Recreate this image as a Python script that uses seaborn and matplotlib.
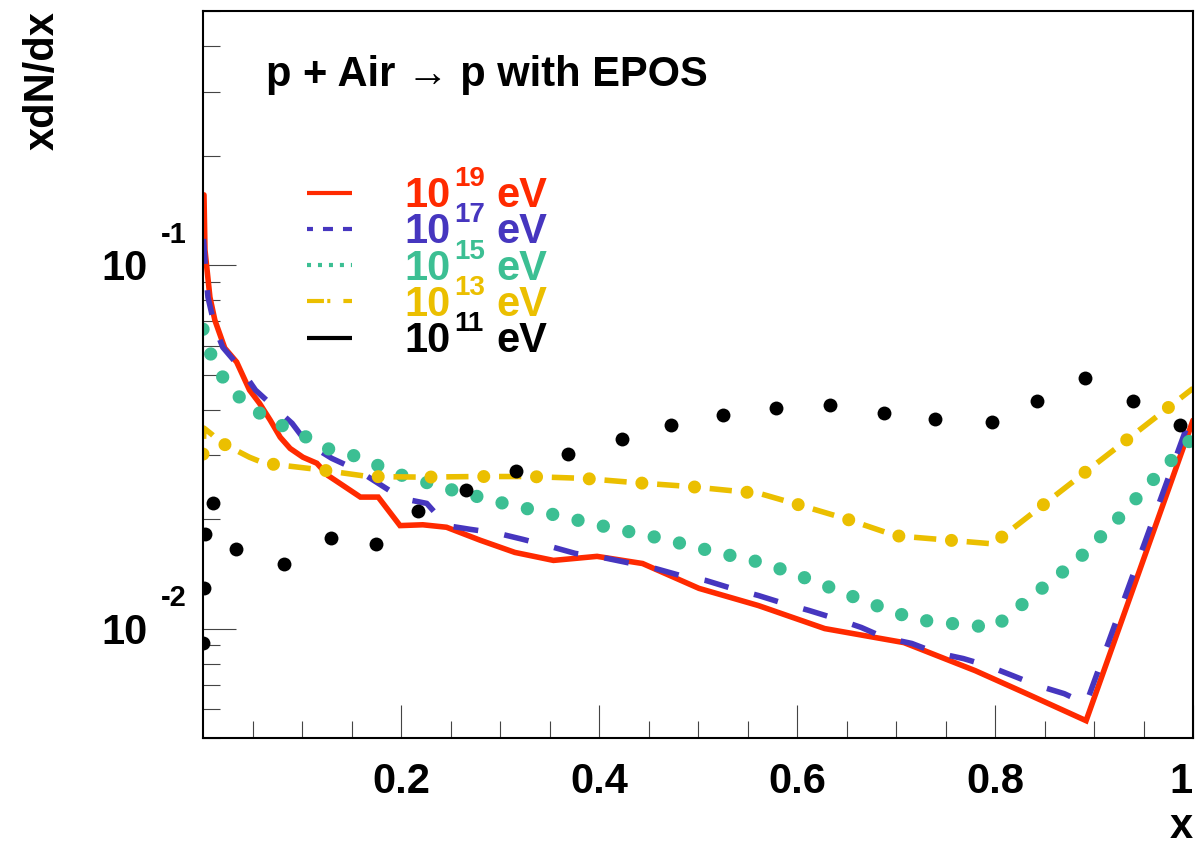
import numpy as np
import matplotlib
matplotlib.use("Agg")
import matplotlib.pyplot as plt
import matplotlib.transforms as mtransforms
from matplotlib.lines import Line2D
from matplotlib.ticker import FixedLocator, NullFormatter
import seaborn as sns

# ---------------- data ----------------
red_x = [0.001, 0.002, 0.007, 0.012, 0.022, 0.034, 0.047, 0.057, 0.068, 0.078, 0.088,
         0.101, 0.115, 0.126, 0.141, 0.159, 0.177, 0.199, 0.222, 0.246, 0.280, 0.315,
         0.354, 0.398, 0.444, 0.501, 0.561, 0.628, 0.708, 0.780, 0.832, 0.892, 1.0]
red_y = [0.156, 0.110, 0.0816, 0.0705, 0.0591, 0.0541, 0.0453, 0.0417, 0.0374, 0.0336, 0.0313,
         0.0296, 0.0285, 0.0264, 0.0248, 0.0230, 0.0230, 0.0192, 0.0193, 0.0190, 0.0175, 0.0162,
         0.0154, 0.0158, 0.0151, 0.0129, 0.01157, 0.0100, 0.00915, 0.00766, 0.00662, 0.00558, 0.0374]

blue_x = [0.0005, 0.003, 0.005, 0.012, 0.020, 0.037, 0.053, 0.073, 0.090, 0.105, 0.130,
          0.157, 0.177, 0.201, 0.226, 0.246, 0.270, 0.298, 0.323, 0.351, 0.376, 0.403,
          0.428, 0.457, 0.482, 0.508, 0.534, 0.561, 0.587, 0.612, 0.638, 0.665, 0.688,
          0.716, 0.740, 0.768, 0.792, 0.818, 0.843, 0.870, 0.892, 1.0]
blue_y = [0.118, 0.0939, 0.0816, 0.0675, 0.0594, 0.0524, 0.0453, 0.0404, 0.0367, 0.0324, 0.0294,
          0.0272, 0.0251, 0.0228, 0.0221, 0.0192, 0.01875, 0.01828, 0.0176, 0.01682, 0.0161, 0.0157,
          0.0152, 0.01463, 0.0140, 0.01356, 0.0129, 0.01233, 0.01172, 0.01122, 0.01067, 0.01007, 0.00945,
          0.00910, 0.00859, 0.00827, 0.00791, 0.00742, 0.00697, 0.00662, 0.00621, 0.0399]

green_x = [0.0, 0.006, 0.017, 0.033, 0.054, 0.077, 0.101, 0.125, 0.151, 0.201, 0.253, 0.304,
           0.357, 0.409, 0.463, 0.515, 0.568, 0.618, 0.669, 0.719, 0.746, 0.799, 0.841,
           0.883, 0.921, 0.957, 1.0]
green_y = [0.0666, 0.0583, 0.0504, 0.0442, 0.0396, 0.0365, 0.0340, 0.0313, 0.0300, 0.0264, 0.0240, 0.0221,
           0.0205, 0.0190, 0.0177, 0.0163, 0.0151, 0.01348, 0.01187, 0.0106, 0.01039, 0.01006, 0.0125,
           0.0154, 0.0196, 0.0252, 0.0336]

yellow_x = [0.0, 0.001, 0.009, 0.018, 0.047, 0.062, 0.116, 0.167, 0.222, 0.276, 0.329, 0.384,
            0.437, 0.491, 0.544, 0.563, 0.597, 0.648, 0.700, 0.754, 0.798, 1.0]
yellow_y = [0.0302, 0.0356, 0.0342, 0.0325, 0.0296, 0.0285, 0.0274, 0.0262, 0.0261, 0.0262, 0.0262, 0.0259,
            0.0252, 0.0246, 0.0238, 0.0235, 0.0221, 0.0201, 0.0180, 0.0175, 0.0171, 0.0458]

black_x = [0.0, 0.001, 0.002, 0.0101, 0.0333, 0.0818, 0.129, 0.175, 0.217, 0.266, 0.316, 0.369,
           0.423, 0.473, 0.525, 0.579, 0.633, 0.688, 0.739, 0.797, 0.842, 0.891, 0.939, 0.987]
black_y = [0.00915, 0.0129, 0.01815, 0.0221, 0.01652, 0.0151, 0.0177, 0.01714, 0.0210, 0.0241, 0.0271, 0.0303,
           0.0332, 0.0362, 0.0386, 0.0404, 0.0411, 0.0391, 0.0376, 0.0369, 0.0422, 0.0488, 0.0422, 0.0362]

legend_exponents = ["19", "17", "15", "13", "11"]
legend_base = "10"
legend_unit = "eV"
x_ticks = [0.2, 0.4, 0.6, 0.8, 1.0]
x_ticklabels = ["0.2", "0.4", "0.6", "0.8", "1"]
x_minor = [0.05, 0.1, 0.15, 0.25, 0.3, 0.35, 0.45, 0.5, 0.55, 0.65, 0.7, 0.75, 0.85, 0.9, 0.95]
y_major = [0.01, 0.1]
y_major_exp = ["-2", "-1"]
y_minor = [0.005, 0.006, 0.007, 0.008, 0.009, 0.02, 0.03, 0.04, 0.05, 0.06, 0.07, 0.08, 0.09,
           0.2, 0.3, 0.4, 0.5]
title_text = "p + Air \u2192 p with EPOS"

# ---------------- style ----------------
RED = "#ff2a00"
BLUE = "#4636bf"
GREEN = "#3cbf93"
YELLOW = "#ebbf00"
BLACK = "#000000"

sns.set_theme(style="white")
plt.rcParams["font.family"] = ["Liberation Sans", "DejaVu Sans"]
plt.rcParams["font.weight"] = "bold"
plt.rcParams["text.color"] = "black"
plt.rcParams["axes.labelcolor"] = "black"
plt.rcParams["xtick.color"] = "black"
plt.rcParams["ytick.color"] = "black"
plt.rcParams["lines.scale_dashes"] = False

W, H = 1200, 849
fig = plt.figure(figsize=(W / 100, H / 100), dpi=100)
L, R, T, B = 203, 1193, 11, 738
ax = fig.add_axes([L / W, (H - B) / H, (R - L) / W, (B - T) / H])
ax.set_yscale("log")


def draw(x, y, color, lw, ls, cap="butt", z=2):
    sns.lineplot(x=x, y=y, ax=ax, color=color, linewidth=lw, sort=False,
                 estimator=None, zorder=z)
    ln = ax.lines[-1]
    ln.set_linestyle(ls)
    ln.set_dash_capstyle(cap)
    ln.set_solid_joinstyle("miter")
    return ln


draw(red_x, red_y, RED, 4.0, "-", z=2)
draw(blue_x, blue_y, BLUE, 4.0, (0, (18, 19)), z=2.1)
draw(green_x, green_y, GREEN, 9.6, (0, (0.01, 18.7)), cap="round", z=2.2)
draw(yellow_x, yellow_y, YELLOW, 4.0, (27, (16, 22)), z=2.3)
draw(yellow_x, yellow_y, YELLOW, 9.4, (0, (0.01, 37.99)), cap="round", z=2.3)
sns.scatterplot(x=black_x, y=black_y, ax=ax, color=BLACK, s=100, linewidth=0, zorder=3)

ax.set_xlim(0, 1)
ax.set_ylim(0.005, 0.5)
ax.set_xlabel("")
ax.set_ylabel("")

# ticks
ax.xaxis.set_major_locator(FixedLocator(x_ticks))
ax.xaxis.set_minor_locator(FixedLocator(x_minor))
ax.set_xticklabels(x_ticklabels)
ax.yaxis.set_major_locator(FixedLocator(y_major))
ax.yaxis.set_minor_locator(FixedLocator(y_minor))
ax.yaxis.set_major_formatter(NullFormatter())
ax.yaxis.set_minor_formatter(NullFormatter())
ax.tick_params(axis="both", which="both", direction="in", color="#444444", width=0.8,
               labelcolor="black", top=False, right=False, bottom=True, left=True)
ax.tick_params(axis="both", which="major", length=23.8)
ax.tick_params(axis="both", which="minor", length=12.2)
ax.tick_params(axis="x", which="major", pad=17, labelsize=30)
xlabs = ax.get_xticklabels()
for lab in xlabs:
    lab.set_fontweight("bold")
xlabs[-1].set_horizontalalignment("right")

for s in ax.spines.values():
    s.set_linewidth(1.5)
    s.set_color("black")

# y tick labels in ROOT style: "10" with raised exponent
ytr = mtransforms.blended_transform_factory(ax.transAxes, ax.transData)
for val, ex in zip(y_major, y_major_exp):
    ax.annotate("10", xy=(0, val), xycoords=ytr, xytext=(-39.6, -10.8),
                textcoords="offset points", ha="right", va="baseline",
                fontsize=30, fontweight="bold", annotation_clip=False)
    ax.annotate(ex, xy=(0, val), xycoords=ytr, xytext=(-30.2, 16.0),
                textcoords="offset points", ha="left", va="baseline",
                fontsize=21, fontweight="bold", annotation_clip=False)

# axis titles and header
fig.text(43 / W, 1 - 81 / H, "xdN/dx", rotation=90, ha="center", va="center",
         fontsize=30, fontweight="bold")
fig.text(1193 / W, 2 / H, "x", ha="right", va="bottom", fontsize=30, fontweight="bold")
fig.text(266 / W, 1 - 86 / H, title_text, ha="left", va="baseline", fontsize=30, fontweight="bold")

# legend (ROOT-like, drawn manually)
leg_colors = [RED, BLUE, GREEN, YELLOW, BLACK]
leg_styles = ["-", (2.9, (7.2, 7.2)), (0, (2.9, 5.0)), (0, (12.2, 2.4, 2.2, 9.4)), "-"]
for i, (ex, col, ls) in enumerate(zip(legend_exponents, leg_colors, leg_styles)):
    yb = 207 + 36.3 * i
    yc = yb - 14.5
    fig.add_artist(Line2D([307 / W, 352 / W], [1 - yc / H, 1 - yc / H], color=col,
                          linewidth=3.0, linestyle=ls, solid_capstyle="butt",
                          dash_capstyle="butt"))
    fig.text(404 / W, 1 - yb / H, legend_base, color=col, ha="left", va="baseline",
             fontsize=30, fontweight="bold")
    fig.text(454 / W, 1 - (yb - 21) / H, ex, color=col, ha="left", va="baseline",
             fontsize=20, fontweight="bold")
    fig.text(496 / W, 1 - yb / H, legend_unit, color=col, ha="left", va="baseline",
             fontsize=30, fontweight="bold")

fig.savefig("out.png", dpi=100)
